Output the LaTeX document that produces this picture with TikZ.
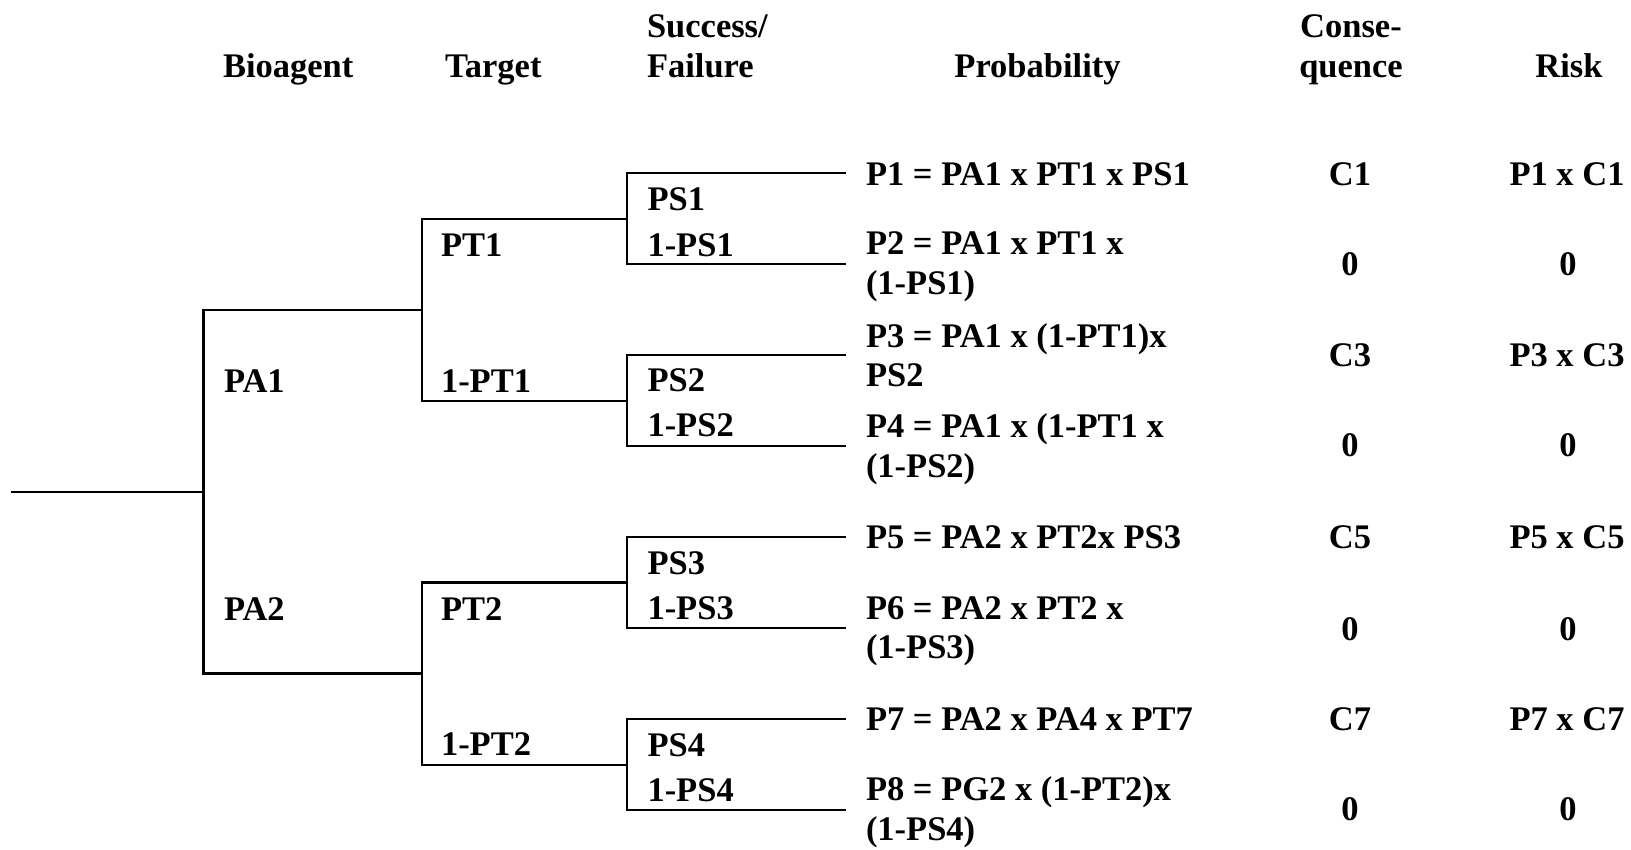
\documentclass[tikz,border=0pt]{standalone}
\usepackage{fontspec}
\setmainfont{Liberation Serif}
\begin{document}
\begin{tikzpicture}[x=1pt,y=-1pt,
  lbl/.style={anchor=base west,inner sep=0pt,outer sep=0pt,
    font=\fontsize{34.5}{39.5}\selectfont\bfseries,align=left},
  ctr/.style={anchor=base,inner sep=0pt,outer sep=0pt,
    font=\fontsize{34.5}{39.5}\selectfont\bfseries,align=center},
  branch/.style={line width=2.2pt,line join=miter,line cap=rect}]
\useasboundingbox (0,0) rectangle (1631,849);

% column headings (multi-line nodes sit on the baseline of their last line)
\node[lbl] (hB) at (223,77) {Bioagent};
\node[lbl] (hT) at (445,77) {Target};
\node[lbl] (hS) at (647,77) {Success/\\Failure};
\node[ctr] (hP) at (1037.5,77) {Probability};
\node[ctr] (hC) at (1351,77) {Conse-\\quence};
\node[ctr] (hR) at (1569,77) {Risk};

% branch points of the event tree
\coordinate (root) at (12,491.7);
\coordinate (jA) at (203.4,491.7);
\coordinate (t1) at (421.6,309.6);
\coordinate (t2) at (421.6,673.5);
\coordinate (s1) at (627.3,218.6);
\coordinate (s2) at (627.3,400.7);
\coordinate (s3) at (627.3,582.5);
\coordinate (s4) at (627.3,764.6);
\coordinate (l1) at (845,173.3);
\coordinate (l2) at (845,264);
\coordinate (l3) at (845,355);
\coordinate (l4) at (845,445.7);
\coordinate (l5) at (845,537.3);
\coordinate (l6) at (845,627.7);
\coordinate (l7) at (845,719.3);
\coordinate (l8) at (845,810);

\draw[branch] (root) -- (jA);
\draw[branch] (jA) |- (t1);
\draw[branch] (jA) |- (t2);
\draw[branch] (t1) |- (s1);
\draw[branch] (t1) |- (s2);
\draw[branch] (t2) |- (s3);
\draw[branch] (t2) |- (s4);
\draw[branch] (s1) |- (l1);
\draw[branch] (s1) |- (l2);
\draw[branch] (s2) |- (l3);
\draw[branch] (s2) |- (l4);
\draw[branch] (s3) |- (l5);
\draw[branch] (s3) |- (l6);
\draw[branch] (s4) |- (l7);
\draw[branch] (s4) |- (l8);

% bioagent probabilities
\node[lbl] (pa1) at (224,392) {PA1};
\node[lbl] (pa2) at (224,620) {PA2};
% target probabilities
\node[lbl] (pt1) at (441,256) {PT1};
\node[lbl] (npt1) at (441,392) {1-PT1};
\node[lbl] (pt2) at (441,620) {PT2};
\node[lbl] (npt2) at (441,755) {1-PT2};
% success / failure probabilities
\node[lbl] (ps1) at (647.5,210) {PS1};
\node[lbl] (nps1) at (647.5,256) {1-PS1};
\node[lbl] (ps2) at (647.5,391) {PS2};
\node[lbl] (nps2) at (647.5,436) {1-PS2};
\node[lbl] (ps3) at (647.5,574) {PS3};
\node[lbl] (nps3) at (647.5,619) {1-PS3};
\node[lbl] (ps4) at (647.5,756) {PS4};
\node[lbl] (nps4) at (647.5,801) {1-PS4};

% outcome probabilities
\node[lbl] (p1) at (866,185) {P1 = PA1 x PT1 x PS1};
\node[lbl] (p2) at (866,294) {P2 = PA1 x PT1 x\\(1-PS1)};
\node[lbl] (p3) at (866,386.5) {P3 = PA1 x (1-PT1)x\\PS2};
\node[lbl] (p4) at (866,477) {P4 = PA1 x (1-PT1 x\\(1-PS2)};
\node[lbl] (p5) at (866,548.3) {P5 = PA2 x PT2x PS3};
\node[lbl] (p6) at (866,658.5) {P6 = PA2 x PT2 x\\(1-PS3)};
\node[lbl] (p7) at (866,730) {P7 = PA2 x PA4 x PT7};
\node[lbl] (p8) at (866,840) {P8 = PG2 x (1-PT2)x\\(1-PS4)};

% consequences
\node[ctr] (c1) at (1350,185) {C1};
\node[ctr] (c2) at (1350,275) {0};
\node[ctr] (c3) at (1350,366.7) {C3};
\node[ctr] (c4) at (1350,456.7) {0};
\node[ctr] (c5) at (1350,548.3) {C5};
\node[ctr] (c6) at (1350,640) {0};
\node[ctr] (c7) at (1350,730) {C7};
\node[ctr] (c8) at (1350,820) {0};

% risks
\node[ctr] (r1) at (1567,185) {P1 x C1};
\node[ctr] (r2) at (1568,275) {0};
\node[ctr] (r3) at (1567,366.7) {P3 x C3};
\node[ctr] (r4) at (1568,456.7) {0};
\node[ctr] (r5) at (1567,548.3) {P5 x C5};
\node[ctr] (r6) at (1568,640) {0};
\node[ctr] (r7) at (1567,730) {P7 x C7};
\node[ctr] (r8) at (1568,820) {0};
\end{tikzpicture}
\end{document}
